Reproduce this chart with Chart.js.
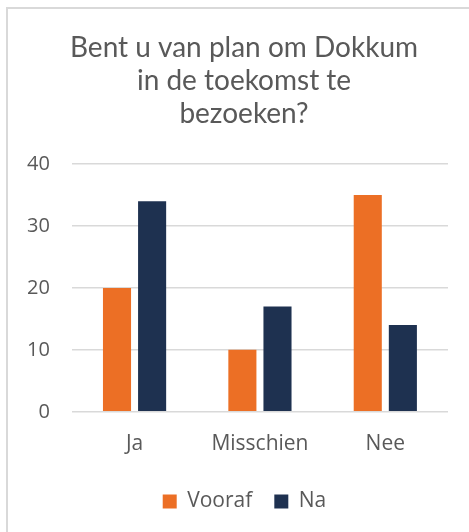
<!DOCTYPE html>
<html>
<head>
<meta charset="utf-8">
<script src="https://cdn.jsdelivr.net/npm/chart.js@4/dist/chart.umd.min.js"></script>
<style>
  html, body { margin: 0; padding: 0; background: #fff; overflow: hidden; }
  #frame {
    position: absolute; left: 6px; top: 7px; width: 480px; height: 540px;
    border-left: 2px solid #d9d9d9; border-top: 2px solid #d9d9d9;
  }
  #chart { position: absolute; left: 0; top: 0; }
</style>
</head>
<body>
<div id="frame"></div>
<canvas id="chart" width="469" height="532"></canvas>
<script>
// antwoorden per categorie
const categorieen = ['Ja', 'Misschien', 'Nee'];
const vooraf = [20, 10, 35];
const na = [34, 17, 14];
const titelRegels = ['Bent u van plan om Dokkum', 'in de toekomst te', 'bezoeken?'];

const tekstKleur = '#595959';

// titel zelf tekenen: staat iets rechts van het midden van het canvas
const titelPlugin = {
  id: 'titel',
  afterDraw(chart) {
    const ctx = chart.ctx;
    ctx.save();
    ctx.font = '28px Lato';
    ctx.fillStyle = tekstKleur;
    ctx.textAlign = 'center';
    ctx.textBaseline = 'middle';
    titelRegels.forEach((regel, i) => ctx.fillText(regel, 244, 47.5 + i * 33));
    ctx.restore();
  }
};

// legenda ook een stukje naar rechts schuiven, net als de titel
const legendaPlugin = {
  id: 'legendaVerschuiving',
  afterLayout(chart) {
    chart.legend.left += 18;
    chart.legend.right += 18;
  }
};

new Chart(document.getElementById('chart'), {
  type: 'bar',
  data: {
    labels: categorieen,
    datasets: [
      { label: 'Vooraf', data: vooraf, backgroundColor: '#ec6f25',
        categoryPercentage: 0.56, barPercentage: 0.8 },
      { label: 'Na', data: na, backgroundColor: '#1e3150',
        categoryPercentage: 0.56, barPercentage: 0.8 }
    ]
  },
  plugins: [titelPlugin, legendaPlugin],
  options: {
    responsive: false,
    animation: false,
    layout: { padding: { left: 5, right: 21, top: 164, bottom: 10 } },
    scales: {
      x: {
        grid: { display: false },
        border: { display: false },
        ticks: { color: tekstKleur, font: { family: 'Open Sans', size: 21 }, padding: 12 }
      },
      y: {
        min: 0, max: 40,
        ticks: { stepSize: 10, color: tekstKleur, font: { family: 'Open Sans', size: 20 }, padding: 22 },
        grid: { color: '#d9d9d9', lineWidth: 1.5, drawTicks: false },
        border: { display: false }
      }
    },
    plugins: {
      title: { display: false },
      legend: {
        position: 'bottom',
        labels: {
          color: tekstKleur,
          font: { family: 'Open Sans', size: 21 },
          boxWidth: 14, boxHeight: 14, padding: 22
        }
      },
      tooltip: { enabled: false }
    }
  }
});
</script>
</body>
</html>
